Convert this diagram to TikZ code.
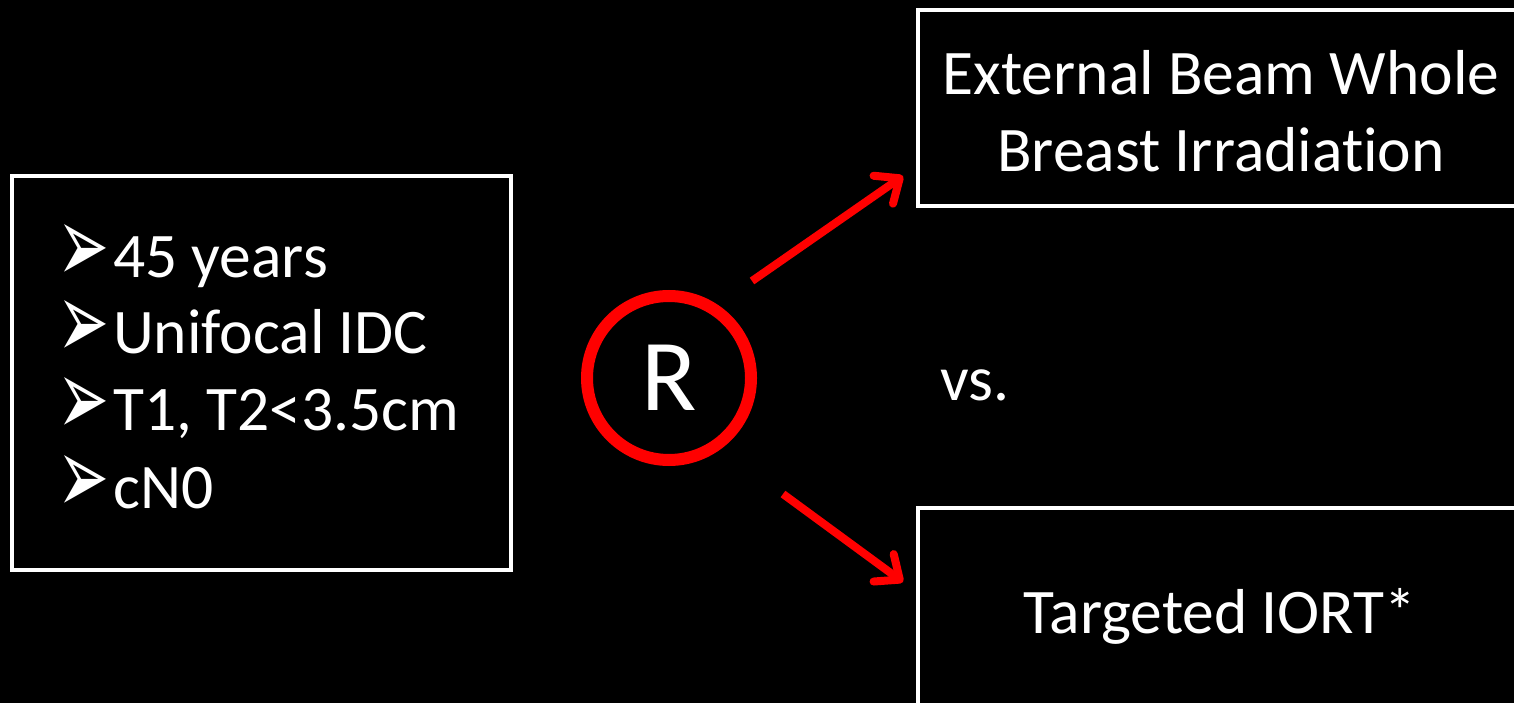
\documentclass[tikz,border=0pt]{standalone}
\usepackage{fontspec}
\setmainfont{Carlito}[Ligatures=NoCommon]
\newfontfamily\symfont{DejaVu Sans}
\usetikzlibrary{arrows.meta}
\newcommand\critbullet{\makebox[46pt][l]{\hspace*{-10pt}\smash{\raisebox{-5.5pt}{\resizebox{52pt}{58pt}{\symfont ➢}}}}}

\begin{document}
\begin{tikzpicture}[x=1pt,y=-1pt,
  box/.style={draw=white, line width=4pt, inner sep=0pt},
  txt/.style={text=white, font=\fontsize{63.5}{77}\selectfont, inner sep=0pt},
  item/.style={txt, anchor=base west},
  redarrow/.style={draw=red, line width=8pt,
    -{Straight Barb[length=20pt,width=34pt,round]}}
]
% page background and extent
\fill[black] (0,0) rectangle (1514,703);
\useasboundingbox (0,0) rectangle (1514,703);

% inclusion criteria
\node[box, minimum width=499pt, minimum height=394pt] (crit) at (261.5,373) {};
\node[item] (c1) at (67,277) {\critbullet 45 years};
\node[item] (c2) at (67,353) {\critbullet Unifocal IDC};
\node[item] (c3) at (67,430) {\critbullet T1, T2<3.5cm};
\node[item] (c4) at (67,508) {\critbullet cN0};

% randomisation
\node[circle, draw=red, line width=12pt, minimum size=164pt, inner sep=0pt,
      text=white, font=\fontsize{102}{102}\selectfont] (R) at (669,378) {R};

% treatment arms
\node[box, minimum width=600pt, minimum height=196pt] (ebwbi) at (1218,108) {};
\node[txt, anchor=base] (e1) at (1221,95) {External Beam Whole};
\node[txt, anchor=base] (e2) at (1221,172) {Breast Irradiation};

\node[box, minimum width=600pt, minimum height=200pt] (iort) at (1218,608) {};
\node[txt, anchor=base] (i1) at (1220,633) {Targeted IORT*};

\node[item] (vs) at (940,400) {vs.};

% arrows from randomisation to the arms
\coordinate (u0) at (752,281);
\coordinate (u1) at (903,176);
\coordinate (d0) at (783,494);
\coordinate (d1) at (903,582);
\draw[redarrow] (u0) -- (u1);
\draw[redarrow] (d0) -- (d1);
\end{tikzpicture}
\end{document}
